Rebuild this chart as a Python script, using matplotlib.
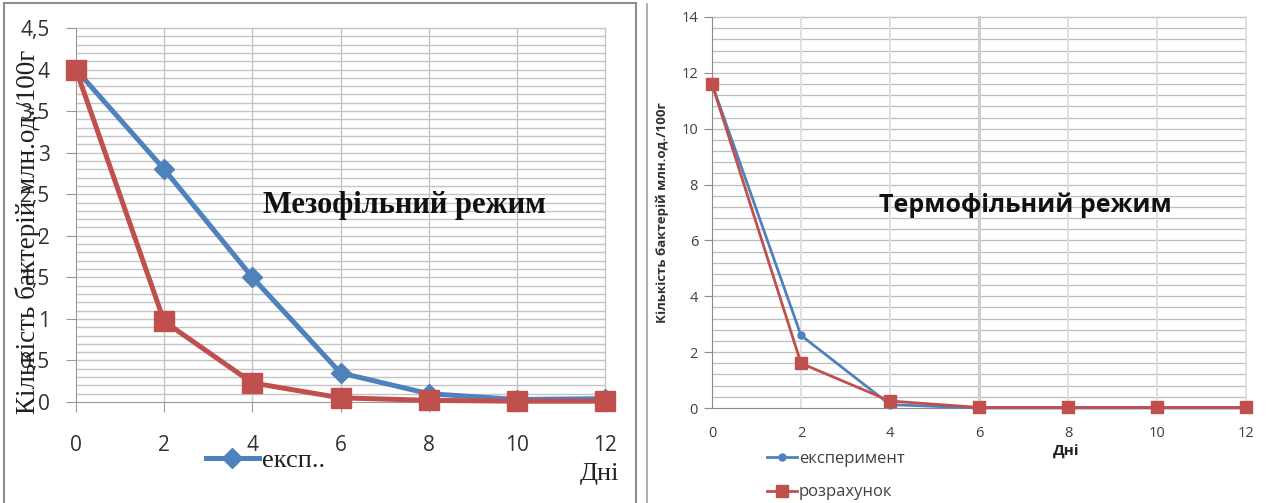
import matplotlib
matplotlib.use("Agg")
import matplotlib.pyplot as plt
import numpy as np
from matplotlib.lines import Line2D

# Data
days = [0, 2, 4, 6, 8, 10, 12]
meso_exp = [4.0, 2.8, 1.5, 0.35, 0.1, 0.03, 0.04]
meso_calc = [4.0, 0.97, 0.23, 0.05, 0.02, 0.01, 0.01]
thermo_exp = [11.6, 2.6, 0.12, 0.0, 0.0, 0.0, 0.0]
thermo_calc = [11.6, 1.6, 0.25, 0.02, 0.02, 0.02, 0.02]

meso_yticks = [0, 0.5, 1, 1.5, 2, 2.5, 3, 3.5, 4, 4.5]
meso_ylabels = ["0", "0,5", "1", "1,5", "2", "2,5", "3", "3,5", "4", "4,5"]
thermo_yticks = [0, 2, 4, 6, 8, 10, 12, 14]

ylabel = "Кількість бактерій млн.од./100г"
BLUE = "#4F81BD"
RED = "#C0504D"

W, H = 1272, 503
fig = plt.figure(figsize=(W / 100, H / 100), dpi=100)


def px_axes(x0, x1, ytop, ybot):
    return fig.add_axes([x0 / W, (H - ybot) / H, (x1 - x0) / W, (ybot - ytop) / H])


# outer frames
fig.add_artist(plt.Rectangle((4 / W, -0.01), 632 / W, (H - 3) / H + 0.01,
                             transform=fig.transFigure, fill=False,
                             edgecolor="#8c8c8c", linewidth=1.5))
fig.add_artist(Line2D([647 / W, 647 / W], [0, 1 - 4 / H], transform=fig.transFigure,
                      color="#a0a0a0", linewidth=1.2))

# ---------------- Left: mesophilic ----------------
ax1 = px_axes(76, 605, 28, 402)
ax1.set_xlim(0, 12)
ax1.set_ylim(0, 4.5)
for v in np.arange(0.1, 4.5, 0.1):
    ax1.axhline(v, color="#c4c4c4", linewidth=1.0, zorder=0)
ax1.axhline(4.5, color="#c4c4c4", linewidth=1.0, zorder=0, clip_on=False)
for d in days[1:]:
    ax1.axvline(d, color="#c4c4c4", linewidth=1.0, zorder=0, clip_on=False)
for s in ["top", "right"]:
    ax1.spines[s].set_visible(False)
for s in ["left", "bottom"]:
    ax1.spines[s].set_color("#9a9a9a")
ax1.set_yticks(meso_yticks)
ax1.set_yticklabels(meso_ylabels, fontsize=15, family="Open Sans", color="#303030")
ax1.set_xticks(days)
ax1.set_xticklabels([str(d) for d in days], fontsize=15, family="Open Sans", color="#303030")
ax1.tick_params(axis="y", length=7, color="#9a9a9a", pad=12)
ax1.tick_params(axis="x", length=7, color="#9a9a9a", pad=17)

ax1.plot(days, meso_exp, color=BLUE, linewidth=3.6, marker="D", markersize=10,
         zorder=3, clip_on=False)
ax1.plot(days, meso_calc, color=RED, linewidth=3.6, marker="s", markersize=14,
         zorder=4, clip_on=False)

fig.text(28 / W, 1 - 232 / H, ylabel, rotation=90, ha="center", va="center",
         fontsize=19.5, family="Liberation Serif", color="#202020")
fig.text(404 / W, 1 - 206 / H, "Мезофільний режим",
         ha="center", va="center", fontsize=22, weight="bold",
         family="Liberation Serif", color="#111111")
fig.text(600 / W, 1 - 474 / H, "Дні", ha="center", va="center", fontsize=19,
         family="Liberation Serif", color="#202020")
fig.legend(handles=[Line2D([0], [0], color=BLUE, linewidth=3.6, marker="D",
                           markersize=10)],
           labels=["експ.."], loc="center left", bbox_to_anchor=(182 / W, 1 - 460 / H),
           frameon=False, handlelength=2.0, handletextpad=0.15,
           prop={"family": "Liberation Serif", "size": 19}, labelcolor="#202020")

# ---------------- Right: thermophilic ----------------
ax2 = px_axes(712, 1246, 17, 408)
ax2.set_xlim(0, 12)
ax2.set_ylim(0, 14)
for v in np.arange(0.4, 14.0, 0.4):
    ax2.axhline(v, color="#bdbdbd", linewidth=0.9, zorder=0)
ax2.axhline(14, color="#bdbdbd", linewidth=0.9, zorder=0, clip_on=False)
for d in days[1:]:
    lw, col = (2.2, "#cfcfcf") if d == 6 else (1.4, "#e0e0e0")
    ax2.axvline(d, color=col, linewidth=lw, zorder=0, clip_on=False)
for s in ["top", "right"]:
    ax2.spines[s].set_visible(False)
for s in ["left", "bottom"]:
    ax2.spines[s].set_color("#8a8a8a")
ax2.set_yticks(thermo_yticks)
ax2.set_yticklabels([str(t) for t in thermo_yticks], fontsize=10.5,
                    family="Open Sans", color="#404040")
ax2.set_xticks(days)
ax2.set_xticklabels([str(d) for d in days], fontsize=10.5, family="Open Sans",
                    color="#404040")
ax2.tick_params(axis="y", length=6, color="#8a8a8a", pad=4)
ax2.tick_params(axis="x", length=0, pad=13)

ax2.plot(days, thermo_exp, color=BLUE, linewidth=2.0, marker="o", markersize=5,
         zorder=3, clip_on=False)
ax2.plot(days, thermo_calc, color=RED, linewidth=2.0, marker="s", markersize=8.5,
         zorder=4, clip_on=False)

fig.text(662 / W, 1 - 213 / H, ylabel, rotation=90, ha="center", va="center",
         fontsize=9.5, weight="bold", family="Open Sans", color="#303030")
fig.text(1025 / W, 1 - 205 / H, "Термофільний режим", ha="center", va="center",
         fontsize=18, weight="bold", family="Open Sans", color="#111111")
fig.text(1066 / W, 1 - 452 / H, "Дні", ha="center", va="center", fontsize=11,
         weight="bold", family="Open Sans", color="#202020")
fig.legend(handles=[Line2D([0], [0], color=BLUE, linewidth=2.0, marker="o", markersize=5),
                    Line2D([0], [0], color=RED, linewidth=2.0, marker="s", markersize=8.5)],
           labels=["експеримент", "розрахунок"], loc="upper left",
           bbox_to_anchor=(752 / W, 1 - 436 / H), frameon=False, handlelength=1.8,
           handletextpad=0.1, labelspacing=1.05,
           prop={"family": "Open Sans", "size": 12}, labelcolor="#404040")

fig.savefig("out.png", dpi=100, facecolor="white")
